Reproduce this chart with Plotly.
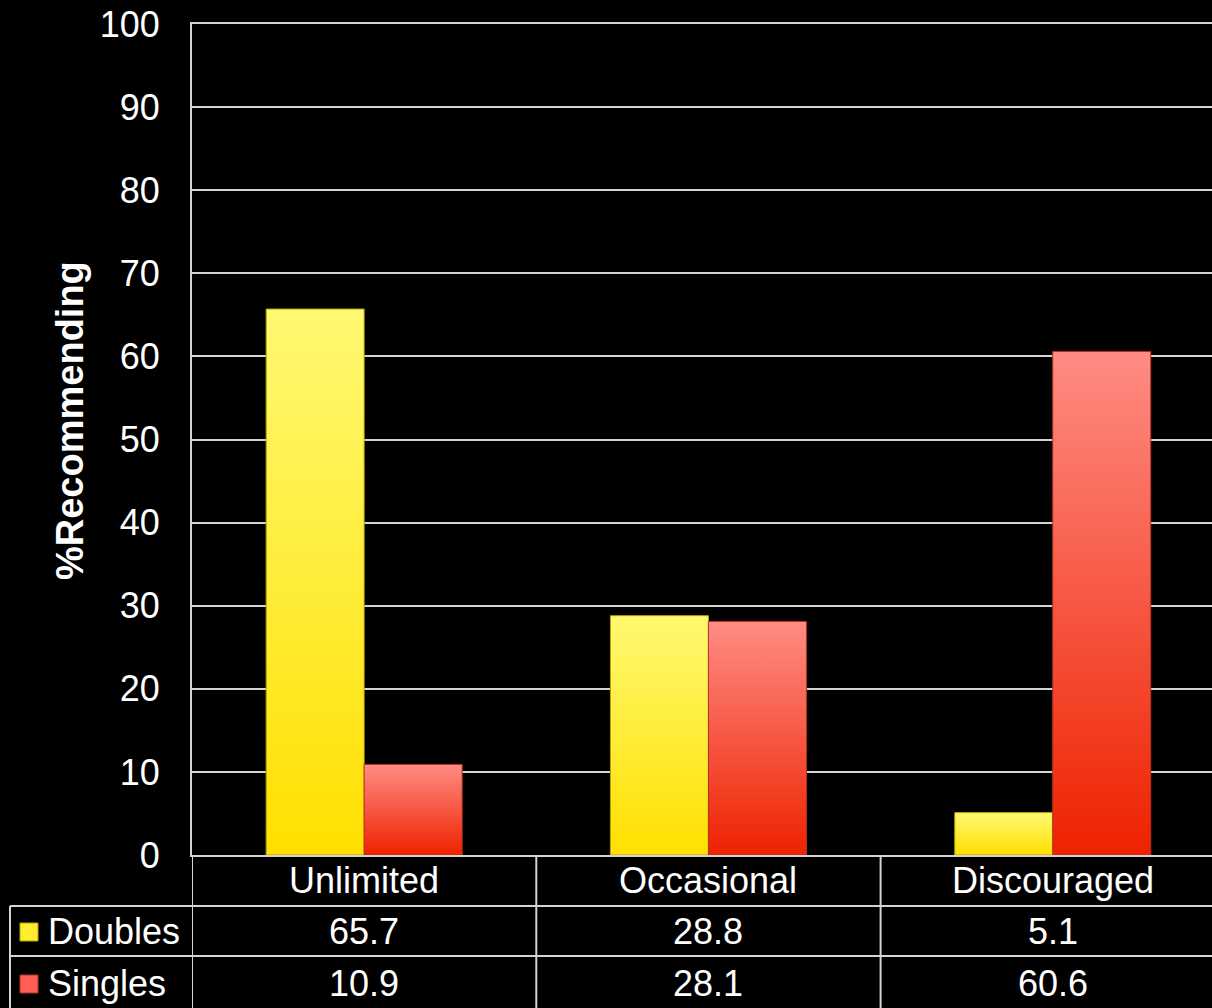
import plotly.graph_objects as go

# ---------------- data ----------------
categories = ["Unlimited", "Occasional", "Discouraged"]
series_names = ["Doubles", "Singles"]
doubles = [65.7, 28.8, 5.1]
singles = [10.9, 28.1, 60.6]
y_tick_values = [0, 10, 20, 30, 40, 50, 60, 70, 80, 90, 100]
y_title = "%Recommending"

# ---------------- styling ----------------
W, H = 1212, 1008
L, R, T, B = 192, 0, 24, 153
PW, PH = W - L - R, H - T - B
CAT_PX = 344.3
X_RANGE = [-0.5, -0.5 + PW / CAT_PX]
BAR_W = 98 / CAT_PX
FONT = "Liberation Sans, Arial, sans-serif"
FS = 36
LINE_COL = "#D4D4D4"

series_values = [doubles, singles]
series_grad = [
    [[0, "#FFE000"], [1, "#FFF972"]],
    [[0, "#EE2200"], [1, "#FF8C84"]],
]
series_edge = ["#B8A200", "#B83020"]
series_square = ["#FFEE30", "#FF5E50"]


def px_x(px):
    return (px - L) / PW


def px_y(py):
    return (T + PH - py) / PH


fig = go.Figure()

# bars as filled polygons with vertical gradient, positioned in data units
for s, vals in enumerate(series_values):
    for i, v in enumerate(vals):
        x0 = i - BAR_W if s == 0 else i
        x1 = x0 + BAR_W
        fig.add_trace(go.Scatter(
            x=[x0, x0, x1, x1, x0],
            y=[0, v, v, 0, 0],
            mode="lines",
            fill="toself",
            fillgradient=dict(type="vertical", colorscale=series_grad[s]),
            line=dict(color=series_edge[s], width=1),
            name=series_names[s],
            showlegend=False,
            hoverinfo="skip",
        ))

fig.update_layout(
    width=W, height=H,
    margin=dict(l=L, r=R, t=T, b=B, pad=0),
    paper_bgcolor="black",
    plot_bgcolor="black",
    font=dict(family=FONT, size=FS, color="white"),
    showlegend=False,
    xaxis=dict(
        range=X_RANGE, showgrid=False, zeroline=False, showticklabels=False,
        showline=True, mirror=True, linecolor=LINE_COL, linewidth=2,
        fixedrange=True,
    ),
    yaxis=dict(
        range=[0, 100], tickvals=y_tick_values, showgrid=True,
        gridcolor=LINE_COL, gridwidth=2, zeroline=False,
        showline=True, linecolor=LINE_COL, linewidth=2,
        ticks="", ticklabelstandoff=23,
        tickfont=dict(family=FONT, size=FS, color="white"),
    ),
)

annotations = []
shapes = []

# y axis title
annotations.append(dict(
    text="<b>" + y_title + "</b>", xref="paper", yref="paper",
    x=px_x(70), y=px_y(421), textangle=-90, showarrow=False,
    xanchor="center", yanchor="middle",
    font=dict(family=FONT, size=38, color="white"),
))

# table rows
row_top = [855, 906, 956]
row_bottom = 1012
row_centers = [881, 931, 983]

# category header row
for i, c in enumerate(categories):
    annotations.append(dict(
        text=c, xref="x", yref="paper", x=i, y=px_y(row_centers[0]),
        showarrow=False, xanchor="center", yanchor="middle",
        font=dict(family=FONT, size=FS, color="white"),
    ))

# value rows
for s, vals in enumerate(series_values):
    yc = px_y(row_centers[s + 1])
    for i, v in enumerate(vals):
        annotations.append(dict(
            text=f"{v:.1f}", xref="x", yref="paper", x=i, y=yc,
            showarrow=False, xanchor="center", yanchor="middle",
            font=dict(family=FONT, size=FS, color="white"),
        ))
    # legend key label
    annotations.append(dict(
        text=series_names[s], xref="paper", yref="paper", x=px_x(46), y=yc,
        showarrow=False, xanchor="left", yanchor="middle",
        font=dict(family=FONT, size=FS, color="white"),
    ))
    # legend key square
    cy = row_centers[s + 1] + 1
    shapes.append(dict(
        type="rect", xref="paper", yref="paper",
        x0=px_x(20), x1=px_x(38), y0=px_y(cy - 9), y1=px_y(cy + 9),
        fillcolor=series_square[s], line=dict(color=series_edge[s], width=1),
    ))

# table grid lines
line_style = dict(color=LINE_COL, width=2)
# vertical column separators (in data units for x)
for xv in [-0.5, 0.5, 1.5]:
    shapes.append(dict(type="line", xref="x", yref="paper",
                       x0=xv, x1=xv, y0=px_y(row_top[0]), y1=px_y(row_bottom),
                       line=line_style))
# legend column left edge
shapes.append(dict(type="line", xref="paper", yref="paper",
                   x0=px_x(10), x1=px_x(10), y0=px_y(row_top[1]), y1=px_y(row_bottom),
                   line=line_style))
# horizontal row separators
for ry in row_top[1:]:
    shapes.append(dict(type="line", xref="paper", yref="paper",
                       x0=px_x(10), x1=1, y0=px_y(ry), y1=px_y(ry),
                       line=line_style))

fig.update_layout(annotations=annotations, shapes=shapes)

fig.write_html("out.html")
